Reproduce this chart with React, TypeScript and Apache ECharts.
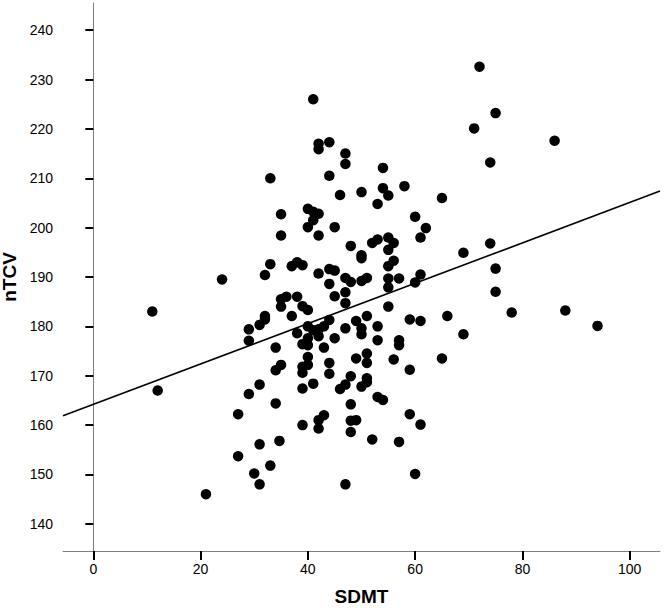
import React, { useEffect, useRef } from "react";
import * as echarts from "echarts";

const points: [number, number][] = [
  [11, 183], [12, 167], [21, 146], [24, 189.5], [27, 162.2], [27, 153.7],
  [29, 166.3], [29, 179.4], [29, 177.1], [30, 150.2], [31, 168.2], [31, 156.1],
  [31, 148], [31, 180.3], [32, 182.1], [32, 181.4], [32, 190.4], [33, 192.6],
  [33, 151.8], [33, 210], [34, 164.4], [34, 171.1], [34, 175.7], [34.7, 156.8],
  [35, 198.4], [35, 202.7], [35, 185.5], [35, 184], [35, 172.2], [36, 186],
  [37, 192.2], [38, 193], [39, 192.4], [38, 186], [39, 184.1], [40, 183.3],
  [37, 182.1], [40, 180], [41, 179.2], [42, 179.4], [43, 180], [44, 181.3],
  [38, 178.6], [40, 177.6], [42, 178], [40, 176.2], [39, 176.4], [43, 175.7],
  [45, 177.6], [47, 179.6], [49, 181.1], [50, 179.6], [50, 178.4], [51, 182.1],
  [53, 180], [53, 177.2], [57, 177.2], [57, 176.2], [59, 181.4], [61, 181.1],
  [40, 173.8], [44, 172.6], [49, 173.5], [51, 174.5], [51, 172.6], [56, 173.3],
  [39, 171.8], [40, 172.2], [39, 170.6], [44, 170.4], [48, 169.9], [51, 169.5],
  [59, 171.2], [41, 168.4], [39, 167.4], [46, 167.3], [47, 168.2], [50, 167.8],
  [51, 168.7], [53, 165.7], [54, 165.1], [48, 164.2], [43, 162], [42, 161],
  [42, 159.3], [39, 160], [48, 160.9], [49, 161], [48, 158.6], [59, 162.2],
  [61, 160.1], [52, 157.1], [57, 156.6], [60, 150.1], [47, 148], [41, 226],
  [42, 217], [42, 215.9], [44, 217.3], [47, 215], [47, 212.9], [54, 212.1],
  [44, 210.5], [58, 208.4], [54, 208], [55, 206.5], [50, 207.2], [46, 206.6],
  [53, 204.8], [40, 203.8], [41, 203.2], [42, 202.8], [41, 201.5], [40, 200.1],
  [45, 200.1], [42, 198.4], [60, 202.2], [61, 198], [53, 197.6], [55, 198],
  [48, 196.3], [52, 196.9], [56, 196.9], [55, 195.5], [50, 194.4], [50, 193.8],
  [56, 193.3], [55, 192.2], [42, 190.7], [44, 191.6], [45, 191.3], [47, 189.8],
  [48, 189], [50, 189.2], [51, 189.8], [55, 189.7], [57, 189.7], [55, 187.9],
  [60, 188.9], [44, 188.6], [45, 186.1], [47, 186.9], [47, 184.7], [55, 184],
  [62, 199.9], [72, 232.6], [75, 223.2], [71, 220.1], [86, 217.6], [74, 213.2],
  [65, 206], [74, 196.8], [69, 194.9], [75, 191.7], [61, 190.5], [75, 187],
  [66, 182.1], [78, 182.8], [88, 183.2], [94, 180.1], [69, 178.4], [65, 173.5],
];

// Fit line end points (at the plot edges)
const fitLine: [number, number][] = [
  [-5.65, 161.9],
  [105.65, 207.4],
];

const xTicks = [0, 20, 40, 60, 80, 100];
const yTicks = [140, 150, 160, 170, 180, 190, 200, 210, 220, 230, 240];
const xRange = [-5.65, 105.65];
const yRange = [134.5, 245.5];

export default function App() {
  const ref = useRef<HTMLDivElement>(null);
  useEffect(() => {
    if (!ref.current) return;
    const chart = echarts.init(ref.current, null, { renderer: "svg" });
    const font = "Liberation Sans, Arial, sans-serif";
    chart.setOption({
      animation: false,
      backgroundColor: "#ffffff",
      grid: {
        left: 63,
        right: 4,
        top: 3,
        bottom: 57,
        containLabel: false,
        outerBoundsMode: "none",
      },
      xAxis: {
        type: "value",
        min: xRange[0],
        max: xRange[1],
        name: "SDMT",
        nameLocation: "middle",
        nameGap: 36,
        nameTextStyle: { fontFamily: font, fontSize: 19, fontWeight: "bold", color: "#000" },
        axisLine: { show: true, lineStyle: { color: "#7f7f7f", width: 1 } },
        axisTick: {
          show: true,
          length: 9,
          lineStyle: { color: "#000", width: 2 },
          customValues: xTicks,
        },
        axisLabel: {
          fontFamily: font,
          fontSize: 14,
          color: "#000",
          margin: 11,
          customValues: xTicks,
        },
        splitLine: { show: false },
      },
      yAxis: {
        type: "value",
        min: yRange[0],
        max: yRange[1],
        name: "nTCV",
        nameLocation: "middle",
        nameGap: 30,
        nameRotate: 90,
        nameTextStyle: { fontFamily: font, fontSize: 19, fontWeight: "bold", color: "#000" },
        axisLine: { show: true, lineStyle: { color: "#7f7f7f", width: 1 } },
        axisTick: {
          show: true,
          length: 8,
          lineStyle: { color: "#000", width: 2 },
          customValues: yTicks,
        },
        axisLabel: {
          fontFamily: font,
          fontSize: 14,
          color: "#000",
          margin: 10,
          customValues: yTicks,
        },
        splitLine: { show: false },
      },
      series: [
        {
          type: "scatter",
          data: points,
          symbol: "circle",
          symbolSize: 10.5,
          itemStyle: { color: "#000", opacity: 1 },
          z: 3,
        },
        {
          type: "line",
          data: fitLine,
          symbol: "none",
          lineStyle: { color: "#000", width: 1.6 },
          z: 2,
        },
      ],
    });
    return () => chart.dispose();
  }, []);
  return (
    <div
      ref={ref}
      style={{ position: "fixed", left: 0, top: 0, width: 664, height: 608 }}
    />
  );
}
